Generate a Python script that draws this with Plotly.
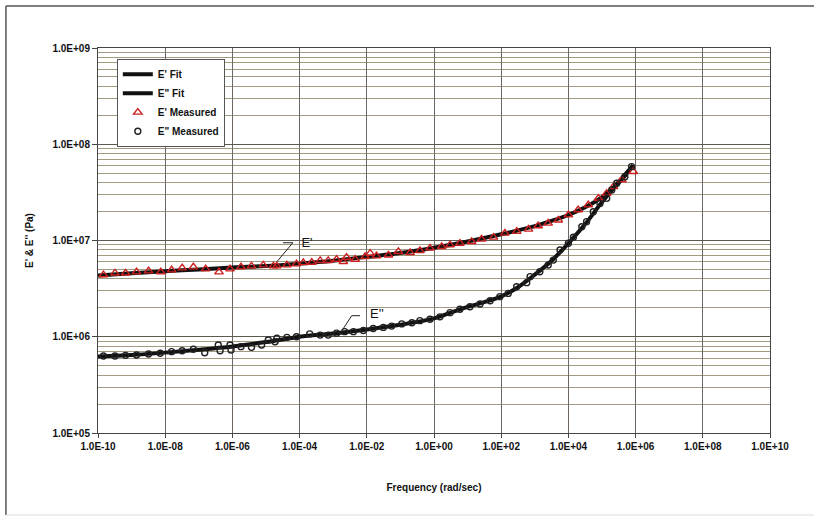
import plotly.graph_objects as go

# ---------------- data ----------------
# E' measured (frequency rad/s, modulus Pa)
ep_meas_f = [1.45e-10, 3.2e-10, 6.6e-10, 1.4e-09, 3.2e-09, 7.4e-09, 1.55e-08, 3.2e-08,
             6.9e-08, 1.6e-07, 4.0e-07, 8.5e-07, 1.8e-06, 3.7e-06, 8.3e-06, 1.66e-05,
             2.1e-05, 4.2e-05, 8.1e-05, 1.29e-04, 2.3e-04, 4.1e-04, 7.1e-04, 1.26e-03,
             2.0e-03, 2.5e-03, 4.5e-03, 8.9e-03, 1.26e-02, 1.95e-02, 4.4e-02, 8.7e-02,
             1.95e-01, 3.8e-01, 7.6e-01, 1.7e+00, 3.0e+00, 5.9e+00, 1.32e+01, 2.6e+01,
             5.9e+01, 1.29e+02, 2.9e+02, 6.5e+02, 1.26e+03, 2.5e+03, 5.0e+03, 1.0e+04,
             1.95e+04, 3.9e+04, 7.8e+04, 1.38e+05, 2.2e+05, 3.9e+05, 8.5e+05]
ep_meas_v = [4.39e6, 4.59e6, 4.59e6, 4.71e6, 4.82e6, 4.71e6, 4.94e6, 5.18e6,
             5.31e6, 5.06e6, 4.71e6, 5.06e6, 5.31e6, 5.43e6, 5.56e6, 5.43e6,
             5.43e6, 5.56e6, 5.70e6, 5.87e6, 5.93e6, 6.17e6, 6.17e6, 6.37e6,
             6.03e6, 6.68e6, 6.37e6, 6.79e6, 7.36e6, 6.90e6, 7.06e6, 7.66e6,
             7.46e6, 7.83e6, 8.32e6, 8.63e6, 8.98e6, 9.35e6, 9.73e6, 1.03e7,
             1.08e7, 1.19e7, 1.24e7, 1.31e7, 1.42e7, 1.51e7, 1.63e7, 1.84e7,
             2.08e7, 2.34e7, 2.74e7, 3.09e7, 3.62e7, 4.26e7, 5.19e7]

# E'' measured
epp_meas_f = [1.45e-10, 3.2e-10, 6.6e-10, 1.4e-09, 3.2e-09, 7.1e-09, 1.55e-08, 3.2e-08,
              6.9e-08, 1.5e-07, 3.8e-07, 4.3e-07, 8.5e-07, 9.1e-07, 1.8e-06, 3.7e-06,
              7.4e-06, 1.17e-05, 1.86e-05, 2.1e-05, 4.2e-05, 8.1e-05, 2.0e-04, 4.1e-04,
              7.1e-04, 1.26e-03, 2.2e-03, 4.0e-03, 7.9e-03, 1.55e-02, 3.1e-02, 5.5e-02,
              1.1e-01, 2.2e-01, 3.8e-01, 7.6e-01, 1.5e+00, 3.0e+00, 5.9e+00, 1.17e+01,
              2.34e+01, 4.68e+01, 9.1e+01, 1.62e+02, 2.88e+02, 5.75e+02, 7.24e+02, 1.41e+03,
              2.51e+03, 3.55e+03, 5.62e+03, 1.0e+04, 1.41e+04, 2.51e+04, 3.47e+04, 5.5e+04,
              8.7e+04, 1.38e+05, 1.95e+05, 2.75e+05, 4.79e+05, 7.59e+05]
epp_meas_v = [6.31e5, 6.31e5, 6.41e5, 6.46e5, 6.62e5, 6.73e5, 7.00e5, 7.16e5,
              7.41e5, 6.82e5, 8.20e5, 7.16e5, 8.20e5, 7.28e5, 7.89e5, 7.76e5,
              8.20e5, 9.25e5, 8.87e5, 9.64e5, 9.86e5, 1.00e6, 1.07e6, 1.04e6,
              1.04e6, 1.09e6, 1.13e6, 1.13e6, 1.16e6, 1.22e6, 1.25e6, 1.29e6,
              1.36e6, 1.40e6, 1.47e6, 1.52e6, 1.61e6, 1.78e6, 1.93e6, 2.05e6,
              2.19e6, 2.37e6, 2.61e6, 2.82e6, 3.31e6, 3.65e6, 4.21e6, 4.74e6,
              5.56e6, 6.26e6, 7.96e6, 9.35e6, 1.08e7, 1.39e7, 1.57e7, 1.99e7,
              2.43e7, 2.74e7, 3.35e7, 3.93e7, 4.60e7, 5.85e7]

# Fit curves
ep_fit_f = [1e-10, 1e-09, 1e-08, 1e-07, 1e-06, 1e-05, 1e-04, 1e-03, 1e-02, 1e-01,
            1e+00, 1e+01, 1e+02, 1e+03, 3.16e+03, 1e+04, 3.16e+04, 1e+05, 3.16e+05, 8.5e+05]
ep_fit_v = [4.32e6, 4.57e6, 4.79e6, 5.01e6, 5.25e6, 5.43e6, 5.75e6, 6.17e6, 6.76e6, 7.41e6,
            8.41e6, 9.77e6, 1.16e7, 1.41e7, 1.60e7, 1.84e7, 2.21e7, 2.82e7, 3.98e7, 6.03e7]
epp_fit_f = [1e-10, 1e-09, 1e-08, 1e-07, 1e-06, 1e-05, 1e-04, 1e-03, 1e-02, 1e-01,
             1e+00, 3.16e+00, 1e+01, 3.16e+01, 1e+02, 3.16e+02, 1e+03, 3.16e+03, 1e+04,
             3.16e+04, 1e+05, 3.16e+05, 8.5e+05]
epp_fit_v = [6.24e5, 6.46e5, 6.84e5, 7.33e5, 7.94e5, 8.81e5, 1.00e6, 1.08e6, 1.19e6, 1.33e6,
             1.55e6, 1.78e6, 2.04e6, 2.29e6, 2.63e6, 3.27e6, 4.42e6, 6.17e6, 9.33e6,
             1.48e7, 2.51e7, 4.07e7, 6.03e7]

# Leader lines / labels
ep_leader_f = [3.2e-05, 6.3e-05, 2.12e-05]
ep_leader_v = [9.48e6, 9.48e6, 6.03e6]
epp_leader_f = [6.3e-03, 3.56e-03, 1.92e-03]
epp_leader_v = [1.655e6, 1.655e6, 1.19e6]
ep_label = ("E'", 1.66e-04, 9.2e6)
epp_label = ("E''", 2.0e-02, 1.68e6)

x_tickvals = [1e-10, 1e-08, 1e-06, 1e-04, 1e-02, 1e+00, 1e+02, 1e+04, 1e+06, 1e+08, 1e+10]
x_ticktext = ["1.0E-10", "1.0E-08", "1.0E-06", "1.0E-04", "1.0E-02", "1.0E+00",
              "1.0E+02", "1.0E+04", "1.0E+06", "1.0E+08", "1.0E+10"]
y_tickvals = [1e5, 1e6, 1e7, 1e8, 1e9]
y_ticktext = ["1.0E+05", "1.0E+06", "1.0E+07", "1.0E+08", "1.0E+09"]

FONT = "Arial, 'Liberation Sans', sans-serif"

fig = go.Figure()
fig.add_trace(go.Scatter(x=ep_fit_f, y=ep_fit_v, mode="lines", name="E' Fit",
                         line=dict(color="#111111", width=4, shape="spline")))
fig.add_trace(go.Scatter(x=epp_fit_f, y=epp_fit_v, mode="lines", name="E\" Fit",
                         line=dict(color="#111111", width=4, shape="spline")))
fig.add_trace(go.Scatter(x=ep_meas_f, y=ep_meas_v, mode="markers", name="E' Measured",
                         marker=dict(symbol="triangle-up-open", size=7.5, color="#cc2020",
                                     line=dict(width=1.4, color="#cc2020"))))
fig.add_trace(go.Scatter(x=epp_meas_f, y=epp_meas_v, mode="markers", name="E\" Measured",
                         marker=dict(symbol="circle-open", size=6, color="#222222",
                                     line=dict(width=1.4, color="#222222"))))
fig.add_trace(go.Scatter(x=ep_leader_f, y=ep_leader_v, mode="lines", showlegend=False,
                         line=dict(color="#222222", width=1), hoverinfo="skip"))
fig.add_trace(go.Scatter(x=epp_leader_f, y=epp_leader_v, mode="lines", showlegend=False,
                         line=dict(color="#222222", width=1), hoverinfo="skip"))
for txt, fx, fy in (ep_label, epp_label):
    fig.add_trace(go.Scatter(x=[fx], y=[fy], mode="text", text=[txt], showlegend=False,
                             textposition="middle center",
                             textfont=dict(family=FONT, size=13, color="#111111"),
                             hoverinfo="skip"))

minor_y = []
for dec in [1e5, 1e6, 1e7, 1e8]:
    for k in range(2, 10):
        minor_y.append(dec * k)

fig.update_layout(
    width=814, height=520,
    margin=dict(l=98, r=44, t=48, b=87),
    paper_bgcolor="white", plot_bgcolor="white",
    font=dict(family=FONT, size=10, color="#111111"),
    showlegend=True,
    legend=dict(x=0.028, y=0.972, xanchor="left", yanchor="top",
                bgcolor="white", bordercolor="#555555", borderwidth=1,
                font=dict(family=FONT, size=10, color="#111111", weight="bold"),
                tracegroupgap=0, itemwidth=30),
    xaxis=dict(type="log", range=[-10, 10], tickvals=x_tickvals, ticktext=x_ticktext,
               tickfont=dict(family=FONT, size=10, color="#111111", weight="bold"),
               showgrid=True, gridcolor="#6e6660", gridwidth=1,
               showline=True, linecolor="#444444", linewidth=1, mirror=True,
               ticks="outside", ticklen=4, tickcolor="#444444",
               zeroline=False,
               title=dict(text="Frequency (rad/sec)", standoff=32,
                          font=dict(family=FONT, size=10, color="#111111", weight="bold"))),
    yaxis=dict(type="log", range=[5, 9], tickvals=y_tickvals, ticktext=y_ticktext,
               tickfont=dict(family=FONT, size=10, color="#111111", weight="bold"),
               showgrid=True, gridcolor="#5e5850", gridwidth=1,
               minor=dict(tickvals=minor_y, showgrid=True, gridcolor="#a29b82", gridwidth=1,
                          ticks=""),
               showline=True, linecolor="#444444", linewidth=1, mirror=True,
               ticks="outside", ticklen=5, tickcolor="#444444",
               zeroline=False,
               title=dict(text="E' & E'' (Pa)", standoff=16,
                          font=dict(family=FONT, size=10, color="#111111", weight="bold"))),
    shapes=[
        dict(type="line", xref="paper", yref="paper", x0=-0.137, x1=-0.137, y0=-0.213, y1=1.109,
             line=dict(color="#555555", width=1.5), layer="below"),
        dict(type="line", xref="paper", yref="paper", x0=-0.137, x1=1.2, y0=1.109, y1=1.109,
             line=dict(color="#555555", width=1.5), layer="below"),
        dict(type="line", xref="paper", yref="paper", x0=-0.137, x1=1.2, y0=-0.213, y1=-0.213,
             line=dict(color="#dddddd", width=1), layer="below"),
    ],
)

fig.write_html("out.html")
